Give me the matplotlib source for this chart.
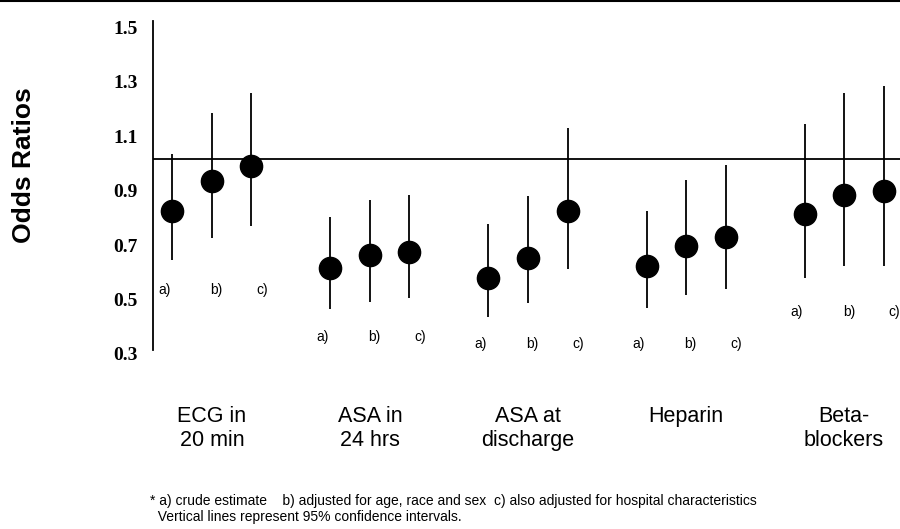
import matplotlib
matplotlib.use("Agg")
import matplotlib.pyplot as plt
import matplotlib.transforms as mtransforms
import numpy as np

categories = ["ECG in\n20 min", "ASA in\n24 hrs", "ASA at\ndischarge", "Heparin", "Beta-\nblockers"]
estimate_labels = ["a)", "b)", "c)"]
# odds ratios: rows = categories, columns = a) crude, b) adjusted, c) also hospital-adjusted
or_point = [[0.81, 0.92, 0.975],
            [0.60, 0.647, 0.66],
            [0.565, 0.636, 0.81],
            [0.61, 0.683, 0.715],
            [0.80, 0.87, 0.885]]
ci_low = [[0.63, 0.71, 0.755],
          [0.452, 0.477, 0.49],
          [0.42, 0.474, 0.596],
          [0.456, 0.503, 0.524],
          [0.564, 0.607, 0.607]]
ci_high = [[1.02, 1.17, 1.245],
           [0.787, 0.852, 0.87],
           [0.762, 0.867, 1.115],
           [0.81, 0.924, 0.978],
           [1.13, 1.245, 1.27]]
yticks = [0.3, 0.5, 0.7, 0.9, 1.1, 1.3, 1.5]
footnote = ("* a) crude estimate    b) adjusted for age, race and sex  c) also adjusted for hospital characteristics\n"
            "  Vertical lines represent 95% confidence intervals.")

fig = plt.figure(figsize=(9, 5.29), dpi=100)
ax = fig.add_axes([153/900, 1 - 350/529, 1 - 153/900, (350 - 21)/529])

offsets = np.array([-0.25, 0.0, 0.25])
label_off = np.array([-0.30, 0.03, 0.32])
label_y = [0.52, 0.348, 0.323, 0.323, 0.438]

pt = np.array(or_point)
lo = np.array(ci_low)
hi = np.array(ci_high)
for i in range(len(categories)):
    xs = i + offsets
    ax.vlines(xs, lo[i], hi[i], color="black", lw=1.3, zorder=2)
    ax.plot(xs, pt[i], "o", color="black", ms=16, zorder=3)
    for j, lab in enumerate(estimate_labels):
        ax.text(i + label_off[j], label_y[i], lab, ha="center", va="center",
                fontsize=10, family="Liberation Sans", clip_on=False)

ax.axhline(1.0, color="black", lw=1.3, zorder=1)

ax.set_xlim(-0.373, 4.354)
ax.set_ylim(0.322, 1.508)
ax.set_yticks(yticks)
ax.set_yticklabels([f"{t:.1f}" for t in yticks], family="Liberation Serif",
                   fontweight="bold", fontsize=14)
ax.tick_params(axis="y", length=0, pad=11)
shift = mtransforms.ScaledTranslation(0, -4/100, fig.dpi_scale_trans)
for lab in ax.get_yticklabels():
    lab.set_transform(lab.get_transform() + shift)
ax.set_xticks(range(len(categories)))
ax.set_xticklabels(categories, family="Liberation Sans", fontsize=15.5, va="top",
                   linespacing=1.2)
ax.tick_params(axis="x", length=0, pad=40)
for s in ["top", "right", "bottom"]:
    ax.spines[s].set_visible(False)
ax.spines["left"].set_linewidth(1.3)

fig.text(24/900, 1 - 165/529, "Odds Ratios", rotation=90, ha="center", va="center",
         family="Liberation Sans", fontweight="bold", fontsize=19)
fig.text(150/900, 1 - 509/529, footnote, ha="left", va="center",
         family="Liberation Sans", fontsize=10, linespacing=1.15)
fig.add_artist(plt.Line2D([0, 1], [1 - 1/529, 1 - 1/529], color="black", lw=1.5,
                          transform=fig.transFigure))

fig.savefig("out.png", dpi=100)
